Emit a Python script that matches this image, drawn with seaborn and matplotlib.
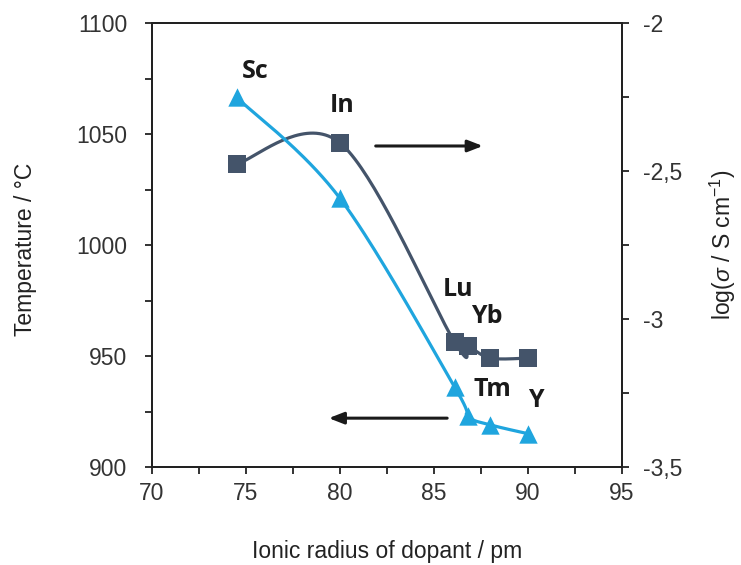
import numpy as np
import pandas as pd
import matplotlib
matplotlib.use("Agg")
import matplotlib.pyplot as plt
from matplotlib.ticker import MultipleLocator, FuncFormatter
import seaborn as sns

# === data ===
dopants = ["Sc", "In", "Lu", "Yb", "Tm", "Y"]
radius = [74.5, 80.0, 86.1, 86.8, 88.0, 90.0]
temperature = [1066.5, 1021, 936, 923, 919, 915]
log_sigma = [-2.476, -2.405, -3.078, -3.091, -3.132, -3.132]

# label positions (x, T) for the dopant names
label_x = [75.5, 80.1, 86.3, 87.8, 88.1, 90.4]
label_t = [1078, 1063, 980, 968, 935, 930]

BLUE = "#1fa5de"
DARK = "#44546a"

sns.set_style("ticks")
plt.rcParams["font.family"] = ["Liberation Sans", "DejaVu Sans"]
plt.rcParams["mathtext.fontset"] = "custom"
plt.rcParams["mathtext.rm"] = "Liberation Sans"
plt.rcParams["mathtext.it"] = "Liberation Sans:italic"


def excel_smooth(xs, ys, sx, sy, n=40):
    # Excel style smoothed line (bezier, tension 1/6), done in screen-like units
    P = np.column_stack([np.asarray(xs) * sx, np.asarray(ys) * sy])
    E = np.vstack([P[0], P, P[-1]])
    t = np.linspace(0, 1, n)[:, None]
    out = []
    for i in range(len(P) - 1):
        p0, p1, p2, p3 = E[i], E[i + 1], E[i + 2], E[i + 3]
        c1 = p1 + (p2 - p0) / 6
        c2 = p2 - (p3 - p1) / 6
        seg = (1 - t) ** 3 * p1 + 3 * (1 - t) ** 2 * t * c1 + 3 * (1 - t) * t ** 2 * c2 + t ** 3 * p2
        out.append(seg if i == 0 else seg[1:])
    out = np.vstack(out)
    return out[:, 0] / sx, out[:, 1] / sy


fig = plt.figure(figsize=(7.41, 5.65), dpi=100)
ax = fig.add_axes([152 / 741, 1 - 467 / 565, 470 / 741, 444 / 565])
ax2 = ax.twinx()

# conductivity (right axis)
cx, cy = excel_smooth(radius, log_sigma, 18.8, 296)
sns.lineplot(x=cx, y=cy, sort=False, estimator=None, color=DARK, lw=2.3, ax=ax2)
sns.scatterplot(x=radius, y=log_sigma, marker="s", s=165, color=DARK, linewidth=0, ax=ax2, zorder=4)

# temperature (left axis), drawn above
ax.set_zorder(ax2.get_zorder() + 1)
ax.patch.set_visible(False)
tx, ty = excel_smooth(radius, temperature, 18.8, 2.22)
sns.lineplot(x=tx, y=ty, sort=False, estimator=None, color=BLUE, lw=2.3, ax=ax)
sns.scatterplot(x=radius, y=temperature, marker="^", s=175, color=BLUE, linewidth=0, ax=ax, zorder=4)

for name, lx, lt in zip(dopants, label_x, label_t):
    ax.text(lx, lt, name, ha="center", va="center", fontsize=18, fontweight="bold",
            family=["Open Sans", "DejaVu Sans"], color="#1a1a1a")

# arrows pointing to the axis of each series
arrow = dict(arrowstyle="-|>,head_length=0.9,head_width=0.35", color="#1a1a1a", lw=2.2, shrinkA=0, shrinkB=0)
ax.annotate("", xy=(87.6, 1044.6), xytext=(81.9, 1044.6), arrowprops=arrow)
ax.annotate("", xy=(79.4, 922), xytext=(85.7, 922), arrowprops=arrow)

# axes
ax.set_xlim(70, 95)
ax.set_ylim(900, 1100)
ax2.set_ylim(-3.5, -2)
ax.xaxis.set_major_locator(MultipleLocator(5))
ax.xaxis.set_minor_locator(MultipleLocator(2.5))
ax.yaxis.set_major_locator(MultipleLocator(50))
ax.yaxis.set_minor_locator(MultipleLocator(25))
ax2.yaxis.set_major_locator(MultipleLocator(0.5))
ax2.yaxis.set_minor_locator(MultipleLocator(0.25))
ax2.yaxis.set_major_formatter(FuncFormatter(lambda v, p: ("%g" % v).replace(".", ",")))

for a in (ax, ax2):
    for s in a.spines.values():
        s.set_visible(True)
        s.set_linewidth(1.4)
        s.set_color("#222222")
    a.tick_params(which="both", direction="out", length=5, width=1.3, color="#222222",
                  labelsize=16.5, labelcolor="#333333")
ax.tick_params(axis="y", pad=13)
ax.tick_params(axis="x", pad=6)
ax2.tick_params(axis="y", pad=10)

lab = dict(fontsize=16.5, color="#222222")
ax.set_xlabel("Ionic radius of dopant / pm", **lab)
ax.set_ylabel("Temperature / °C", **lab)
ax2.set_ylabel(r"log($\sigma$ / S cm$^{-1}$)", **lab)
ax.xaxis.label.set_va("center")
ax.xaxis.set_label_coords(0.5, -0.191)
ax.yaxis.label.set_va("center")
ax.yaxis.set_label_coords(-0.27, 0.49)
ax2.yaxis.label.set_va("center")
ax2.yaxis.set_label_coords(1.215, 0.5)

fig.savefig("out.png", dpi=100)
